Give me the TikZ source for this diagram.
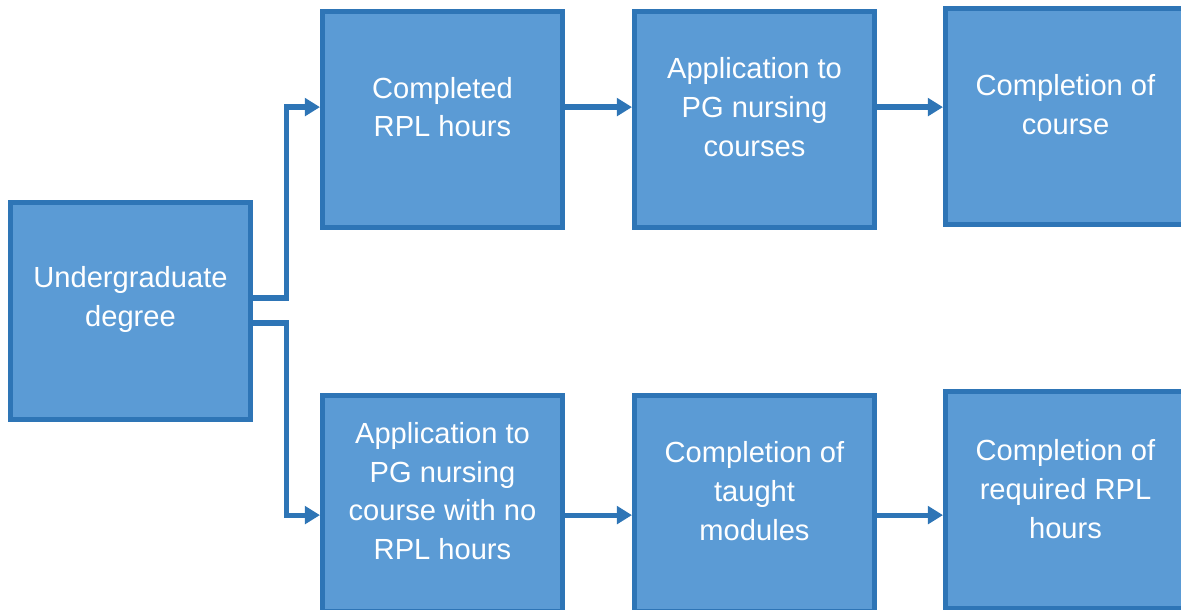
\documentclass[tikz,border=0pt]{standalone}
\usepackage{fontspec}
\setmainfont{Liberation Sans}
\usetikzlibrary{arrows.meta}
\definecolor{boxfill}{HTML}{5B9BD5}
\definecolor{boxline}{HTML}{2E75B6}
\tikzset{
  stage/.style={draw=boxline, fill=boxfill, line width=0.125cm,
    minimum width=6cm, minimum height=5.4cm, inner sep=0pt},
  words/.style={text=white, align=center, inner sep=0pt,
    font=\fontsize{20.7}{27.7}\selectfont},
  flow/.style={draw=boxline, line width=0.13cm,
    -{Triangle[length=0.38cm,width=0.44cm]}}
}

\begin{document}
\begin{tikzpicture}[x=0.025cm,y=-0.025cm]
\useasboundingbox (0,0) rectangle (1181,610);
\clip (0,0) rectangle (1181,610);
\coordinate (U) at (130.5,311);
\coordinate (A1) at (442.5,119.5);
\coordinate (A2) at (754.5,119.5);
\coordinate (A3) at (1065.5,116.5);
\coordinate (B1) at (442.5,503.5);
\coordinate (B2) at (754.5,503.5);
\coordinate (B3) at (1065.5,500);
\coordinate (fork) at (286.5,311);
\node[stage] (ug) at (U) {};
\node[stage] (a1) at (A1) {};
\node[stage] (a2) at (A2) {};
\node[stage] (a3) at (A3) {};
\node[stage] (b1) at (B1) {};
\node[stage] (b2) at (B2) {};
\node[stage] (b3) at (B3) {};
% box texts sit a little above the middle
\node[words] (ugt) at ([yshift=0.3cm]ug.center) {Undergraduate\\degree};
\node[words] (a1t) at ([yshift=0.31cm]a1.center) {Completed\\RPL hours};
\node[words] (a2t) at ([yshift=0.31cm]a2.center) {Application to\\PG nursing\\courses};
\node[words] (a3t) at ([yshift=0.29cm]a3.center) {Completion of\\course};
\node[words] (b1t) at ([yshift=0.31cm]b1.center) {Application to\\PG nursing\\course with no\\RPL hours};
\node[words] (b2t) at ([yshift=0.31cm]b2.center) {Completion of\\taught\\modules};
\node[words] (b3t) at ([yshift=0.28cm]b3.center) {Completion of\\required RPL\\hours};
% lower row runs below the middle
\coordinate (low) at ([yshift=-0.29cm]b1.center);
% split after the degree
\draw[flow] ([yshift=0.325cm]ug.east) -- ([yshift=0.325cm]fork) |- (a1t -| a1.west);
\draw[flow] ([yshift=-0.3cm]ug.east) -- ([yshift=-0.3cm]fork) |- (low -| b1.west);
\draw[flow] (a1t -| a1.east) -- (a1t -| a2.west);
\draw[flow] (a2t -| a2.east) -- (a2t -| a3.west);
\draw[flow] (low -| b1.east) -- (low -| b2.west);
\draw[flow] (low -| b2.east) -- (low -| b3.west);
\end{tikzpicture}
\end{document}
